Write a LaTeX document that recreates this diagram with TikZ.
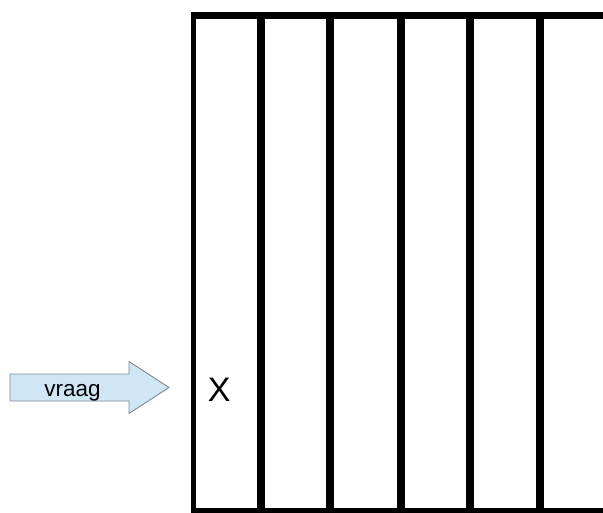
\documentclass[tikz,border=0pt]{standalone}
\usepackage{fontspec}
\setmainfont{Liberation Sans}
\begin{document}
\begin{tikzpicture}[x=1pt,y=-1pt,
  frameline/.style={line width=#1,black},
  arrowshape/.style={fill={rgb,255:red,207;green,231;blue,245},draw={rgb,255:red,128;green,136;blue,144},line width=0.9pt,line join=miter},
  lbl/.style={inner sep=0pt,anchor=base}]
\useasboundingbox (0,0) rectangle (603,512);
\fill[white] (0,0) rectangle (603,512);
% frame
\draw[frameline=7pt] (191,15.5) -- (603,15.5);
\draw[frameline=5.5pt] (193.5,12) -- (193.5,512);
\draw[frameline=5pt] (191,510) -- (603,510);
% dividers
\foreach \xx in {261.3,330.3,400.7,469.5,539.7}
  \draw[frameline=8pt] (\xx,12) -- (\xx,512);
% arrow
\draw[arrowshape] (10,374) -- (129,374) -- (129,361.5) -- (169,387.5) -- (129,413.5) -- (129,401) -- (10,401) -- cycle;
\node[lbl,font=\fontsize{22.5}{24}\selectfont] (vraag) at (72.5,396) {vraag};
\node[lbl,font=\fontsize{34}{36}\selectfont] (x) at (219.3,401.7) {X};
\end{tikzpicture}
\end{document}
